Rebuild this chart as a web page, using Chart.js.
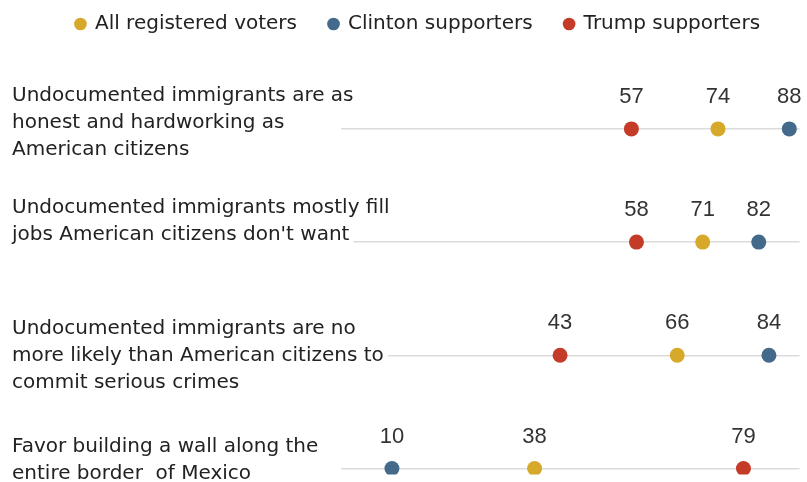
<!DOCTYPE html>
<html>
<head>
<meta charset="utf-8">
<script src="https://cdn.jsdelivr.net/npm/chart.js@4"></script>
<style>
  html, body { margin: 0; padding: 0; background: #fff; }
  #wrap { width: 807px; height: 482px; }
</style>
</head>
<body>
<div id="wrap"><canvas id="dotChart"></canvas></div>
<script>
const rowLabels = [
  ["Undocumented immigrants are as", "honest and hardworking as", "American citizens"],
  ["Undocumented immigrants mostly fill", "jobs American citizens don't want"],
  ["Undocumented immigrants are no", "more likely than American citizens to", "commit serious crimes"],
  ["Favor building a wall along the", "entire border  of Mexico"],
];
const allVoters = [74, 71, 66, 38];
const clintonSupporters = [88, 82, 84, 10];
const trumpSupporters = [57, 58, 43, 79];

// vertical offset of each label's first line from its row line
const labelOffsets = [-33, -34, -27, -22];

const LABEL_FONT = "20px 'DejaVu Sans'";
const VALUE_FONT = "22px 'Liberation Sans', Arial, sans-serif";

function toPoints(values) {
  return values.map((v, i) => ({ x: v, y: i }));
}

const rowLabelPlugin = {
  id: "rowLabels",
  afterDraw(chart) {
    const ctx = chart.ctx;
    const yScale = chart.scales.y;
    ctx.save();
    ctx.font = LABEL_FONT;
    ctx.textAlign = "left";
    ctx.textBaseline = "middle";
    rowLabels.forEach((lines, i) => {
      const y0 = yScale.getPixelForValue(i) + labelOffsets[i];
      lines.forEach((line, j) => {
        const y = y0 + j * 27;
        // knock out the grid line behind the text
        ctx.fillStyle = "#fff";
        ctx.fillRect(10, y - 11, ctx.measureText(line).width + 6, 22);
        ctx.fillStyle = "#222";
        ctx.fillText(line, 12, y);
      });
    });
    ctx.restore();
  },
};

const valueLabelPlugin = {
  id: "valueLabels",
  afterDatasetsDraw(chart) {
    const ctx = chart.ctx;
    ctx.save();
    ctx.font = VALUE_FONT;
    ctx.fillStyle = "#333";
    ctx.textAlign = "center";
    ctx.textBaseline = "middle";
    chart.data.datasets.forEach((ds, di) => {
      chart.getDatasetMeta(di).data.forEach((pt, i) => {
        ctx.fillText(String(ds.data[i].x), pt.x, pt.y - 32);
      });
    });
    ctx.restore();
  },
};

new Chart(document.getElementById("dotChart"), {
  type: "scatter",
  data: {
    datasets: [
      { label: "All registered voters", data: toPoints(allVoters), backgroundColor: "#D6A92A" },
      { label: "Clinton supporters", data: toPoints(clintonSupporters), backgroundColor: "#436A8B" },
      { label: "Trump supporters", data: toPoints(trumpSupporters), backgroundColor: "#C43B28" },
    ],
  },
  options: {
    responsive: true,
    maintainAspectRatio: false,
    animation: false,
    layout: { padding: { left: 36, right: 7, top: -18, bottom: 0 } },
    elements: { point: { radius: 7.5, hoverRadius: 7.5, borderWidth: 0 } },
    scales: {
      x: { display: false, min: 0, max: 90 },
      y: {
        reverse: true,
        min: -0.75,
        max: 3.053,
        afterFit: (scale) => {
          scale.width = 305;
        },
        afterBuildTicks: (scale) => {
          scale.ticks = rowLabels.map((_, i) => ({ value: i }));
        },
        ticks: { display: false },
        border: { display: false },
        grid: { color: "#dcdcdc", lineWidth: 1.5, drawTicks: false },
      },
    },
    plugins: {
      tooltip: { enabled: false },
      legend: {
        position: "top",
        align: "center",
        labels: {
          usePointStyle: true,
          pointStyle: "circle",
          boxWidth: 9,
          boxHeight: 9,
          padding: 32,
          color: "#222",
          font: { family: "'DejaVu Sans'", size: 20 },
        },
      },
    },
  },
  plugins: [rowLabelPlugin, valueLabelPlugin],
});
</script>
</body>
</html>
